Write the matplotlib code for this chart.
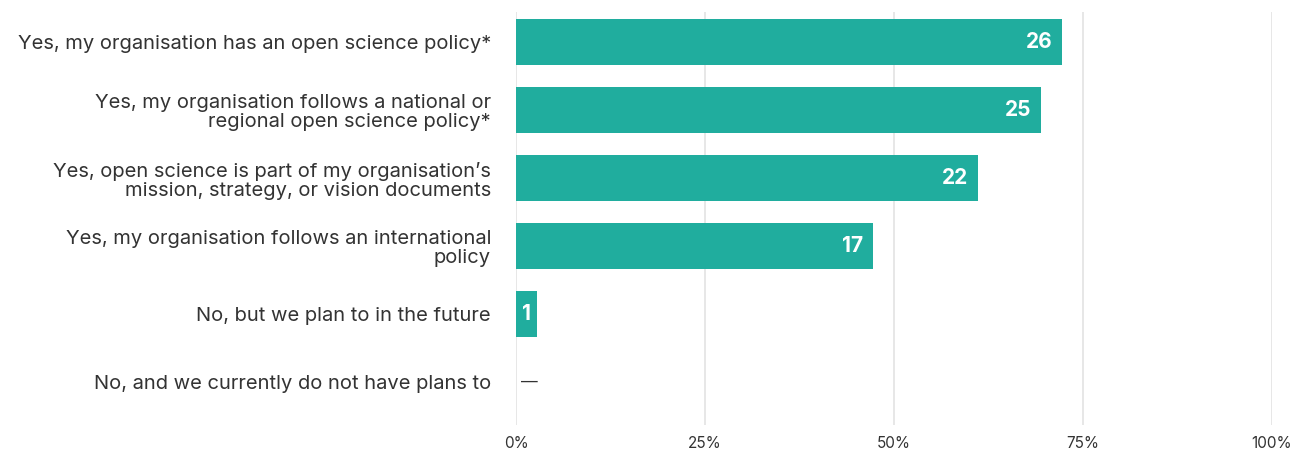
import matplotlib.pyplot as plt

plt.rcParams['font.family'] = ['Inter', 'DejaVu Sans']

# Survey responses (number of organisations), 36 respondents in total
categories = [
    'Yes, my organisation has an open science policy*',
    'Yes, my organisation follows a national or\nregional open science policy*',
    "Yes, open science is part of my organisation\u2019s\nmission, strategy, or vision documents",
    'Yes, my organisation follows an international\npolicy',
    'No, but we plan to in the future',
    'No, and we currently do not have plans to',
]
counts = [26, 25, 22, 17, 1, 0]
n_respondents = 36
xticks = [0, 25, 50, 75, 100]
xtick_labels = ['0%', '25%', '50%', '75%', '100%']

teal = '#20ad9e'
pct = [100 * c / n_respondents for c in counts]

fig = plt.figure(figsize=(12.92, 4.53), dpi=100)
ax = fig.add_axes([0.3994, 0.0618, 0.5851, 0.9117])

ypos = list(range(len(categories)))
ax.barh(ypos, pct, height=0.68, color=teal, zorder=3)

# value labels: count inside the bar end (centred on narrow bars), dash for empty rows
for y, p, c in zip(ypos, pct, counts):
    if c == 0:
        ax.annotate('\u2014', xy=(0, y), xytext=(3.5, 0), textcoords='offset points',
                    ha='left', va='center', color='#333333', fontsize=12, zorder=4)
    elif p < 5:
        ax.annotate(str(c), xy=(p / 2, y), ha='center', va='center', color='white',
                    fontsize=15, fontweight='bold', zorder=4)
    else:
        ax.annotate(str(c), xy=(p, y), xytext=(-7, 0), textcoords='offset points',
                    ha='right', va='center', color='white', fontsize=15,
                    fontweight='bold', zorder=4)

ax.set_xlim(0, 100)
ax.set_ylim(5.63, -0.44)
ax.set_yticks(ypos)
ax.set_yticklabels(categories, fontsize=14.5, color='#333333', linespacing=1.1)
ax.set_xticks(xticks)
ax.set_xticklabels(xtick_labels, fontsize=11, color='#333333')

ax.grid(axis='x', color='#e3e3e3', linewidth=1.2, zorder=0)
for s in ax.spines.values():
    s.set_visible(False)
ax.tick_params(axis='y', length=0, pad=18)
ax.tick_params(axis='x', length=0, pad=8)

fig.savefig('out.png', dpi=100)
